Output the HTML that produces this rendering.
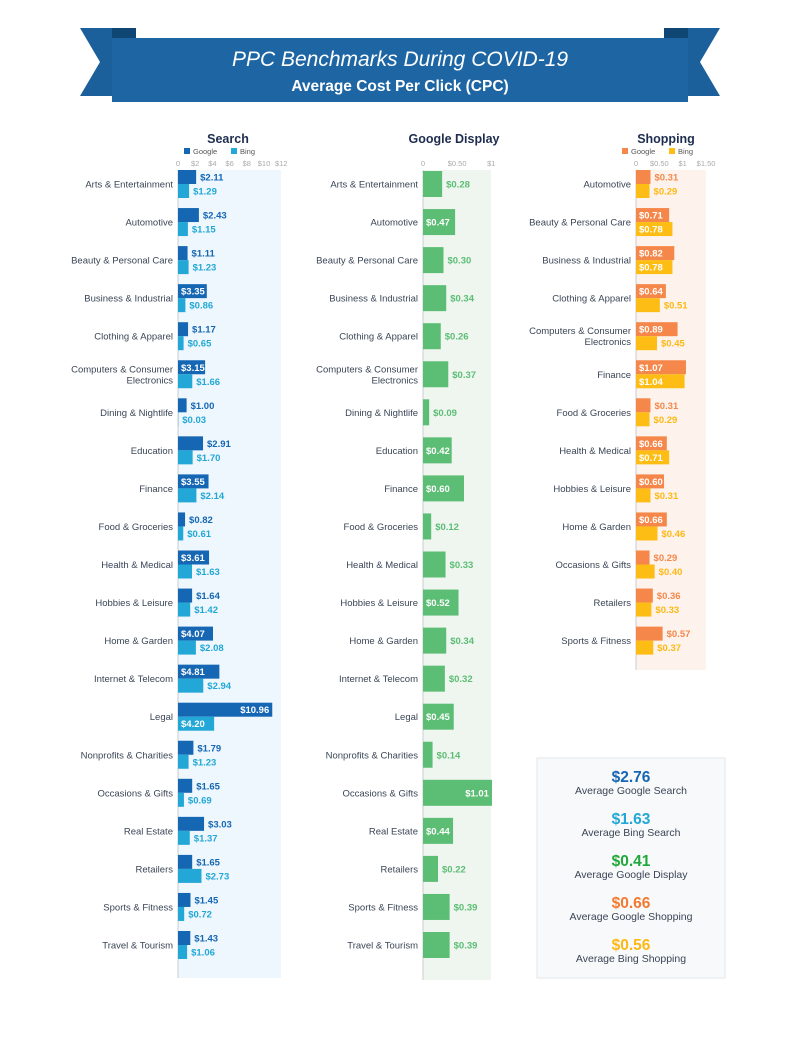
<!DOCTYPE html>
<html><head><meta charset="utf-8">
<style>
html,body{margin:0;padding:0;background:#fff;}
svg{display:block;font-family:"Liberation Sans",sans-serif;}
</style></head>
<body>
<svg id="chart" width="800" height="1050" viewBox="0 0 800 1050" xmlns="http://www.w3.org/2000/svg">
  <g>
    <polygon points="80,28 128,28 128,96 80,96 100,62" fill="#1b609b"/>
    <polygon points="720,28 672,28 672,96 720,96 700,62" fill="#1b609b"/>
    <polygon points="112,28 136,28 136,38 112,38" fill="#0f4674"/>
    <polygon points="688,28 664,28 664,38 688,38" fill="#0f4674"/>
    <rect x="112" y="38" width="576" height="64" fill="#1d65a3"/>
    <text x="400" y="66" text-anchor="middle" fill="#fff" font-size="21" font-style="italic">PPC Benchmarks During COVID-19</text>
    <text x="400" y="91" text-anchor="middle" fill="#fff" font-size="15.5" font-weight="bold">Average Cost Per Click (CPC)</text>
  </g>
  <g id="search"></g>
  <g id="display"></g>
  <g id="shopping"></g>
  <g>
    <rect x="537" y="758" width="188" height="220" fill="#f8f9fa" stroke="#e3e6e8"/>
    <g font-size="10.5" fill="#3a4556" text-anchor="middle">
      <text x="631" y="782" font-size="15.5" font-weight="bold" fill="#1566b3">$2.76</text>
      <text x="631" y="794">Average Google Search</text>
      <text x="631" y="824" font-size="15.5" font-weight="bold" fill="#22a7d6">$1.63</text>
      <text x="631" y="836">Average Bing Search</text>
      <text x="631" y="866" font-size="15.5" font-weight="bold" fill="#20a83a">$0.41</text>
      <text x="631" y="878">Average Google Display</text>
      <text x="631" y="908" font-size="15.5" font-weight="bold" fill="#f57a2e">$0.66</text>
      <text x="631" y="920">Average Google Shopping</text>
      <text x="631" y="950" font-size="15.5" font-weight="bold" fill="#fdb813">$0.56</text>
      <text x="631" y="962">Average Bing Shopping</text>
    </g>
  </g>
</svg>
<script>
const searchCategories = ["Arts & Entertainment","Automotive","Beauty & Personal Care","Business & Industrial","Clothing & Apparel","Computers & Consumer|Electronics","Dining & Nightlife","Education","Finance","Food & Groceries","Health & Medical","Hobbies & Leisure","Home & Garden","Internet & Telecom","Legal","Nonprofits & Charities","Occasions & Gifts","Real Estate","Retailers","Sports & Fitness","Travel & Tourism"];
const searchGoogle = [2.11,2.43,1.11,3.35,1.17,3.15,1.00,2.91,3.55,0.82,3.61,1.64,4.07,4.81,10.96,1.79,1.65,3.03,1.65,1.45,1.43];
const searchBing = [1.29,1.15,1.23,0.86,0.65,1.66,0.03,1.70,2.14,0.61,1.63,1.42,2.08,2.94,4.20,1.23,0.69,1.37,2.73,0.72,1.06];
const searchTicks = [0,2,4,6,8,10,12];
const searchTickLabels = ["0","$2","$4","$6","$8","$10","$12"];
const displayValues = [0.28,0.47,0.30,0.34,0.26,0.37,0.09,0.42,0.60,0.12,0.33,0.52,0.34,0.32,0.45,0.14,1.01,0.44,0.22,0.39,0.39];
const displayTicks = [0,0.5,1];
const displayTickLabels = ["0","$0.50","$1"];
const shopCategories = ["Automotive","Beauty & Personal Care","Business & Industrial","Clothing & Apparel","Computers & Consumer|Electronics","Finance","Food & Groceries","Health & Medical","Hobbies & Leisure","Home & Garden","Occasions & Gifts","Retailers","Sports & Fitness"];
const shopGoogle = [0.31,0.71,0.82,0.64,0.89,1.07,0.31,0.66,0.60,0.66,0.29,0.36,0.57];
const shopBing = [0.29,0.78,0.78,0.51,0.45,1.04,0.29,0.71,0.31,0.46,0.40,0.33,0.37];
const shopTicks = [0,0.5,1,1.5];
const shopTickLabels = ["0","$0.50","$1","$1.50"];

const NS="http://www.w3.org/2000/svg";
function mk(parent,tag,attrs,text){const e=document.createElementNS(NS,tag);for(const k in attrs)e.setAttribute(k,attrs[k]);if(text!==undefined)e.textContent=text;parent.appendChild(e);return e;}
const fmt=v=>"$"+v.toFixed(2);
const rowY=i=>184+i*38.05;

function panel(g,o){
  const x=v=>o.x0+v*o.scale;
  const bg=mk(g,'rect',{x:o.x0,y:170,width:o.pw,height:o.pb-170,fill:o.bg});
  
  
  mk(g,'line',{x1:o.x0,y1:170,x2:o.x0,y2:o.pb,stroke:'#c8cdd2','stroke-width':1});
  const t=mk(g,'text',{x:o.tx,y:143,'text-anchor':'middle','font-size':12.5,'font-weight':'bold',fill:'#1e2d4f'},o.title);
  
  
  if(o.legend){
    o.legend.forEach((l,j)=>{
      const lx=o.tx-44+j*47;
      const lg=mk(g,'g',{});
      
      
      mk(lg,'rect',{x:lx,y:148,width:6,height:6,fill:l[1]});
      mk(lg,'text',{x:lx+9,y:154,'font-size':7.5,fill:'#555'},l[0]);
    });
  }
  o.ticks.forEach((v,j)=>{
    const tk=mk(g,'text',{x:x(v),y:166,'text-anchor':'middle','font-size':7.5,fill:'#aaa'},o.tickLabels[j]);
    
    
  });
  o.cats.forEach((c,i)=>{
    const cy=rowY(i);
    const parts=c.split('|');
    parts.forEach((p,k)=>{
      const lb=mk(g,'text',{x:o.x0-5,y:cy+3.5+(k-(parts.length-1)/2)*11,'text-anchor':'end','font-size':9.5,fill:'#3a4556'},p);
      
      
    });
    o.series.forEach((s,si)=>{
      const v=s.vals[i];
      const y0=o.series.length===1?cy-13:(si===0?cy-14:cy);
      const h=o.series.length===1?26:14;
      const w=v*o.scale;
      const b=mk(g,'rect',{x:o.x0,y:y0,width:w,height:h,fill:s.color});
      
      
      const inside=v>=s.th;
      const big=w>60;
      const lx=inside?(big?o.x0+w-3:o.x0+3):o.x0+w+4;
      const lb=mk(g,'text',{x:lx,y:y0+h/2+3.5,'text-anchor':inside&&big?'end':'start','font-size':9.5,'font-weight':'bold',fill:inside?'#fff':s.tcolor},fmt(v));
      
      
    });
  });
}
panel(document.getElementById('search'),{x0:178,scale:8.6,pw:103,pb:978,bg:'#edf7fd',tx:228,title:'Search',
  legend:[['Google','#1566b3'],['Bing','#22a7d6']],ticks:searchTicks,tickLabels:searchTickLabels,cats:searchCategories,
  series:[{vals:searchGoogle,color:'#1566b3',tcolor:'#1566b3',th:3.1},{vals:searchBing,color:'#22a7d6',tcolor:'#22a7d6',th:3.1}]});
panel(document.getElementById('display'),{x0:423,scale:68.3,pw:68,pb:980,bg:'#eef6ef',tx:454,title:'Google Display',
  ticks:displayTicks,tickLabels:displayTickLabels,cats:searchCategories,
  series:[{vals:displayValues,color:'#5cbd74',tcolor:'#5cbd74',th:0.4}]});
panel(document.getElementById('shopping'),{x0:636,scale:46.7,pw:70,pb:670,bg:'#fdf3ec',tx:666,title:'Shopping',
  legend:[['Google','#f5874a'],['Bing','#fdbd15']],ticks:shopTicks,tickLabels:shopTickLabels,cats:shopCategories,
  series:[{vals:shopGoogle,color:'#f5874a',tcolor:'#f5874a',th:0.6},{vals:shopBing,color:'#fdbd15',tcolor:'#fdb813',th:0.6}]});
</script>
</body></html>
